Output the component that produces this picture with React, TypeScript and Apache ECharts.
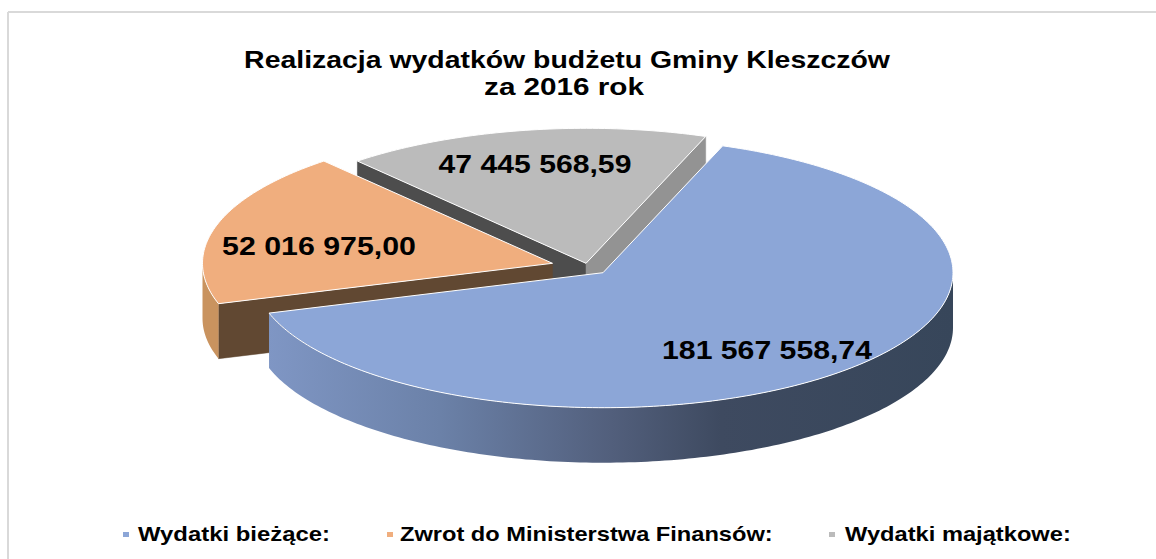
import React, { useEffect, useRef } from "react";
import * as echarts from "echarts";

const TITLE_LINES = ["Realizacja wydatków budżetu Gminy Kleszczów", "za 2016 rok"];
const CATEGORIES = ["Wydatki bieżące:", "Zwrot do Ministerstwa Finansów:", "Wydatki majątkowe:"];
const VALUES = [181567558.74, 52016975.0, 47445568.59];
const LABELS = ["181 567 558,74", "52 016 975,00", "47 445 568,59"];
const TOP_COLORS = ["#8CA6D7", "#F0AE7E", "#BBBBBB"];

const FONT = "'Liberation Sans', Arial, sans-serif";
const FIRST_ANGLE = 20;
const RX = 350;
const RY = 135;
const DEPTH = 55;
// Per-slice styling: exploded centre, draw order, wall colours, label placement
const SLICE_STYLE = [
  { cx: 603, cy: 272.7, z: 30, startFace: "#36455A", endFace: "#36455A", labelX: 767, labelY: 350, labelW: 210 },
  { cx: 552.5, cy: 263.3, z: 20, startFace: "#614832", endFace: "#614832", labelX: 319, labelY: 246, labelW: 194 },
  { cx: 586, cy: 263.3, z: 10, startFace: "#4D4D4D", endFace: "#939393", labelX: 535, labelY: 164, labelW: 193 },
];
const LEGEND_LAYOUT = [
  { mark: 123, text: 138, width: 192 },
  { mark: 387, text: 400, width: 373 },
  { mark: 829, text: 845, width: 226 },
];

const measureCtx = document.createElement("canvas").getContext("2d") as CanvasRenderingContext2D;
function fitScale(text: string, font: string, target: number) {
  measureCtx.font = font;
  return target / measureCtx.measureText(text).width;
}

const total = VALUES.reduce((a, b) => a + b, 0);
const starts: number[] = [];
VALUES.reduce((acc, v, i) => {
  starts[i] = acc;
  return acc + (v / total) * 360;
}, FIRST_ANGLE);

function pt(cx: number, cy: number, deg: number, dy = 0): number[] {
  const r = (deg * Math.PI) / 180;
  return [cx + RX * Math.sin(r), cy - RY * Math.cos(r) + dy];
}
function arc(cx: number, cy: number, a: number, b: number, dy = 0): number[][] {
  const out: number[][] = [];
  const n = Math.max(1, Math.ceil(Math.abs(b - a)));
  for (let i = 0; i <= n; i++) out.push(pt(cx, cy, a + ((b - a) * i) / n, dy));
  return out;
}
function sinD(d: number) {
  return Math.sin((d * Math.PI) / 180);
}

function renderSlice(params: any, api: any) {
  const i = params.dataIndex;
  const s = SLICE_STYLE[i];
  const a = starts[i];
  const b = a + (api.value(0) / total) * 360;
  const children: any[] = [];
  const edge = { stroke: "#FFFFFF", lineWidth: 1, opacity: 1 };
  const apex = [s.cx, s.cy];
  const apexLow = [s.cx, s.cy + DEPTH];

  // radial faces that look toward the viewer
  if (sinD(a) < 0) {
    children.push({
      type: "polygon",
      z2: s.z,
      shape: { points: [apex, pt(s.cx, s.cy, a), pt(s.cx, s.cy, a, DEPTH), apexLow] },
      style: { fill: s.startFace, stroke: s.startFace, lineWidth: 0.5 },
    });
  }
  if (sinD(b) > 0) {
    children.push({
      type: "polygon",
      z2: s.z,
      shape: { points: [apex, pt(s.cx, s.cy, b), pt(s.cx, s.cy, b, DEPTH), apexLow] },
      style: { fill: s.endFace, stroke: s.endFace, lineWidth: 0.5 },
    });
  }
  // outer rim: only the front half (90..270 degrees) shows
  const rimFrom = Math.max(a, 90);
  const rimTo = Math.min(b, 270);
  if (rimTo > rimFrom) {
    const upper = arc(s.cx, s.cy, rimFrom, rimTo);
    const lower = arc(s.cx, s.cy, rimTo, rimFrom, DEPTH);
    children.push({
      type: "polygon",
      z2: s.z + 1,
      shape: { points: upper.concat(lower) },
      style: {
        fill:
          i === 0
            ? new echarts.graphic.LinearGradient(0, 0, 1, 0, [
                { offset: 0, color: "#7F96C4" },
                { offset: 0.25, color: "#6B81A8" },
                { offset: 0.5, color: "#525F7C" },
                { offset: 0.66, color: "#3E4A60" },
                { offset: 1, color: "#37465A" },
              ])
            : "#C9935F",
      },
    });
  }
  // top face
  children.push({
    type: "polygon",
    z2: s.z + 2,
    shape: { points: [apex].concat(arc(s.cx, s.cy, a, b)) },
    style: { fill: api.visual("color"), ...edge },
  });
  // value label
  const font = `bold 25px ${FONT}`;
  children.push({
    type: "text",
    z2: 100,
    x: s.labelX,
    y: s.labelY,
    scaleX: fitScale(LABELS[i], font, s.labelW),
    style: {
      text: LABELS[i],
      fontFamily: FONT,
      fontSize: 25,
      fontWeight: "bold",
      fill: "#000000",
      align: "center",
      verticalAlign: "middle",
    },
  });
  return { type: "group", children };
}

function buildGraphics() {
  const g: any[] = [
    { type: "line", silent: true, shape: { x1: 8, y1: 12, x2: 1156, y2: 12 }, style: { stroke: "#D9D9D9", lineWidth: 2 } },
    { type: "line", silent: true, shape: { x1: 8, y1: 12, x2: 8, y2: 559 }, style: { stroke: "#D9D9D9", lineWidth: 2 } },
  ];
  const titleFont = `bold 23px ${FONT}`;
  const titlePos = [
    { x: 567, y: 60, w: 646 },
    { x: 564, y: 87, w: 160 },
  ];
  TITLE_LINES.forEach((t, i) => {
    g.push({
      type: "text",
      silent: true,
      x: titlePos[i].x,
      y: titlePos[i].y,
      scaleX: fitScale(t, titleFont, titlePos[i].w),
      style: { text: t, fontFamily: FONT, fontSize: 23, fontWeight: "bold", fill: "#000000", align: "center", verticalAlign: "middle" },
    });
  });
  const legendFont = `bold 20px ${FONT}`;
  CATEGORIES.forEach((c, i) => {
    const l = LEGEND_LAYOUT[i];
    g.push({ type: "rect", silent: true, shape: { x: l.mark, y: 532, width: 6, height: 5 }, style: { fill: TOP_COLORS[i] } });
    g.push({
      type: "text",
      silent: true,
      x: l.text,
      y: 534,
      scaleX: fitScale(c, legendFont, l.width),
      style: { text: c, fontFamily: FONT, fontSize: 20, fontWeight: "bold", fill: "#000000", align: "left", verticalAlign: "middle" },
    });
  });
  return g;
}

export default function App() {
  const ref = useRef<HTMLDivElement>(null);
  useEffect(() => {
    const chart = echarts.init(ref.current as HTMLDivElement, undefined, { renderer: "svg" });
    chart.setOption({
      animation: false,
      backgroundColor: "#FFFFFF",
      graphic: buildGraphics(),
      series: [
        {
          type: "custom",
          coordinateSystem: "none",
          silent: true,
          renderItem: renderSlice,
          data: VALUES.map((v, i) => ({ value: v, name: CATEGORIES[i], itemStyle: { color: TOP_COLORS[i] } })),
        },
      ],
    });
    return () => chart.dispose();
  }, []);
  return <div ref={ref} style={{ position: "absolute", left: 0, top: 0, width: 1156, height: 559 }} />;
}
